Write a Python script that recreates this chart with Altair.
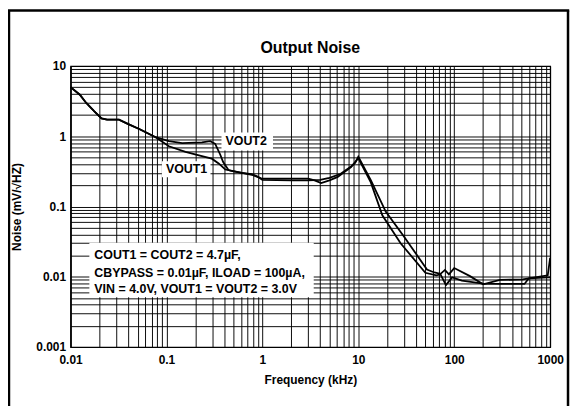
import altair as alt
import pandas as pd

# ---- data ----
f_out1 = [0.01, 0.0125, 0.0145, 0.0175, 0.021, 0.024, 0.032, 0.04, 0.052, 0.077,
          0.106, 0.158, 0.234, 0.297, 0.35, 0.41, 0.5, 0.61, 0.77, 0.9, 1.0,
          2.0, 3.0, 4.0, 5.0, 6.5, 8.4, 9.3, 10.0, 13.5, 19.3, 29.9, 52.0,
          62.0, 72.0, 80.0, 88.0, 100.0, 146.0, 200.0, 300.0, 520.0, 600.0, 944.0, 1000.0]
v_out1 = [5.0, 3.9, 3.0, 2.3, 1.8, 1.72, 1.72, 1.49, 1.27, 0.97,
          0.72, 0.60, 0.52, 0.48, 0.41, 0.336, 0.32, 0.30, 0.29, 0.265, 0.24,
          0.235, 0.235, 0.24, 0.255, 0.29, 0.37, 0.42, 0.51, 0.237, 0.0845, 0.0374, 0.0127,
          0.0115, 0.011, 0.0125, 0.0108, 0.0133, 0.0102, 0.0078, 0.009, 0.0092, 0.0095, 0.0105, 0.0185]

f_out2 = [0.01, 0.0125, 0.0145, 0.0175, 0.021, 0.024, 0.032, 0.04, 0.052, 0.077,
          0.106, 0.146, 0.234, 0.286, 0.322, 0.363, 0.39, 0.443, 0.5, 0.61, 0.8, 0.98,
          1.5, 3.0, 3.5, 4.1, 5.0, 6.1, 8.4, 10.0, 13.5, 17.8, 27.6, 50.0,
          65.0, 72.0, 82.0, 95.0, 120.0, 200.0, 300.0, 540.0, 600.0, 944.0, 1000.0]
v_out2 = [5.0, 3.9, 3.0, 2.3, 1.8, 1.72, 1.72, 1.49, 1.27, 0.97,
          0.85, 0.80, 0.82, 0.85, 0.78, 0.55, 0.43, 0.33, 0.315, 0.30, 0.28, 0.25,
          0.25, 0.25, 0.235, 0.215, 0.235, 0.264, 0.365, 0.49, 0.22, 0.075, 0.030, 0.0114,
          0.0105, 0.0108, 0.0076, 0.0098, 0.0088, 0.008, 0.0079, 0.0079, 0.0095, 0.0098, 0.0098]

x_grid = [round(m * 10.0 ** k, 6) for k in range(-2, 3) for m in range(1, 10)] + [1000]
y_grid = [round(m * 10.0 ** k, 6) for k in range(-3, 1) for m in range(1, 10)] + [10]

title_text = ["Output Noise"]
x_title = "Frequency (kHz)"
y_title = "Noise (mV/\u221AHZ)"

note_lines = ["COUT1 = COUT2 = 4.7\u00B5F,",
              "CBYPASS = 0.01\u00B5F, ILOAD = 100\u00B5A,",
              "VIN = 4.0V, VOUT1 = VOUT2 = 3.0V"]
note_f = [0.0177, 0.0177, 0.0177]
note_v = [0.0206, 0.01148, 0.0066]

lab_text = ["VOUT2", "VOUT1"]
lab_f = [0.412, 0.0986]
lab_v = [0.843, 0.339]

# white boxes behind annotations (data coordinates)
box_f1 = [0.0157, 0.3745, 0.0896]
box_f2 = [3.43, 1.29, 0.288]
box_v1 = [0.0305, 1.13, 0.44]
box_v2 = [0.0051, 0.629, 0.261]

df = pd.concat([
    pd.DataFrame({"f": f_out1, "v": v_out1, "s": "VOUT1"}),
    pd.DataFrame({"f": f_out2, "v": v_out2, "s": "VOUT2"}),
])

xscale = alt.Scale(type="log", domain=[0.01, 1000], nice=False)
yscale = alt.Scale(type="log", domain=[0.001, 10], nice=False)

lab_expr = "abs(log(datum.value)/LN10 - round(log(datum.value)/LN10)) < 1e-6 ? format(datum.value, '~g') : ''"

xaxis = alt.Axis(values=x_grid, labelExpr=lab_expr, title=x_title, grid=True,
                 ticks=False, labelPadding=8, titlePadding=9, labelFlush=False,
                 labelOverlap=False)
yaxis = alt.Axis(values=y_grid, labelExpr=lab_expr, title=y_title, grid=True,
                 ticks=False, labelPadding=5, titlePadding=12, labelOverlap=False)

lines = alt.Chart(df).mark_line(color="black", strokeWidth=1.8).encode(
    x=alt.X("f:Q", scale=xscale, axis=xaxis),
    y=alt.Y("v:Q", scale=yscale, axis=yaxis),
    detail="s:N",
)

boxes = alt.Chart(pd.DataFrame({"f1": box_f1, "f2": box_f2, "v1": box_v1, "v2": box_v2})).mark_rect(
    fill="white").encode(
    x=alt.X("f1:Q", scale=xscale), x2="f2:Q",
    y=alt.Y("v1:Q", scale=yscale), y2="v2:Q",
)

notes = alt.Chart(pd.DataFrame({"t": note_lines, "f": note_f, "v": note_v})).mark_text(
    align="left", baseline="middle", fontSize=12.5, fontWeight="bold", color="black").encode(
    x=alt.X("f:Q", scale=xscale), y=alt.Y("v:Q", scale=yscale), text="t:N")

labels = alt.Chart(pd.DataFrame({"t": lab_text, "f": lab_f, "v": lab_v})).mark_text(
    align="left", baseline="middle", fontSize=12.5, fontWeight="bold", color="black").encode(
    x=alt.X("f:Q", scale=xscale), y=alt.Y("v:Q", scale=yscale), text="t:N")

title = alt.Chart(pd.DataFrame({"t": title_text})).mark_text(
    align="center", baseline="middle", fontSize=16, fontWeight="bold", color="black").encode(
    x=alt.value(241.5), y=alt.value(-18), text="t:N")

one = pd.DataFrame({"a": [0]})
frame_left = alt.Chart(one).mark_rule(color="black", strokeWidth=2.5).encode(
    x=alt.value(-62), y=alt.value(-56), y2=alt.value(400))
frame_right = alt.Chart(one).mark_rule(color="black", strokeWidth=2.5).encode(
    x=alt.value(501), y=alt.value(-56), y2=alt.value(400))
frame_top = alt.Chart(one).mark_rule(color="black", strokeWidth=2.5).encode(
    x=alt.value(-63.2), x2=alt.value(502.2), y=alt.value(-56))

chart = alt.layer(boxes, lines, notes, labels, title, frame_left, frame_right, frame_top).properties(
    width=483, height=283,
    autosize=alt.AutoSizeParams(type="none"),
    padding={"left": 63, "top": 57, "right": 20, "bottom": 58},
).configure(font="Liberation Sans").configure_axis(
    gridColor="black", gridWidth=1, gridOpacity=0.95,
    domainColor="black", domainWidth=1.2,
    labelFont="Liberation Sans", labelFontSize=12, labelFontWeight="bold", labelColor="black",
    titleFont="Liberation Sans", titleFontSize=12, titleFontWeight="bold", titleColor="black",
).configure_view(stroke="black", strokeWidth=1.2)

chart.save("out.html", embed_options={"renderer": "svg", "actions": False})
